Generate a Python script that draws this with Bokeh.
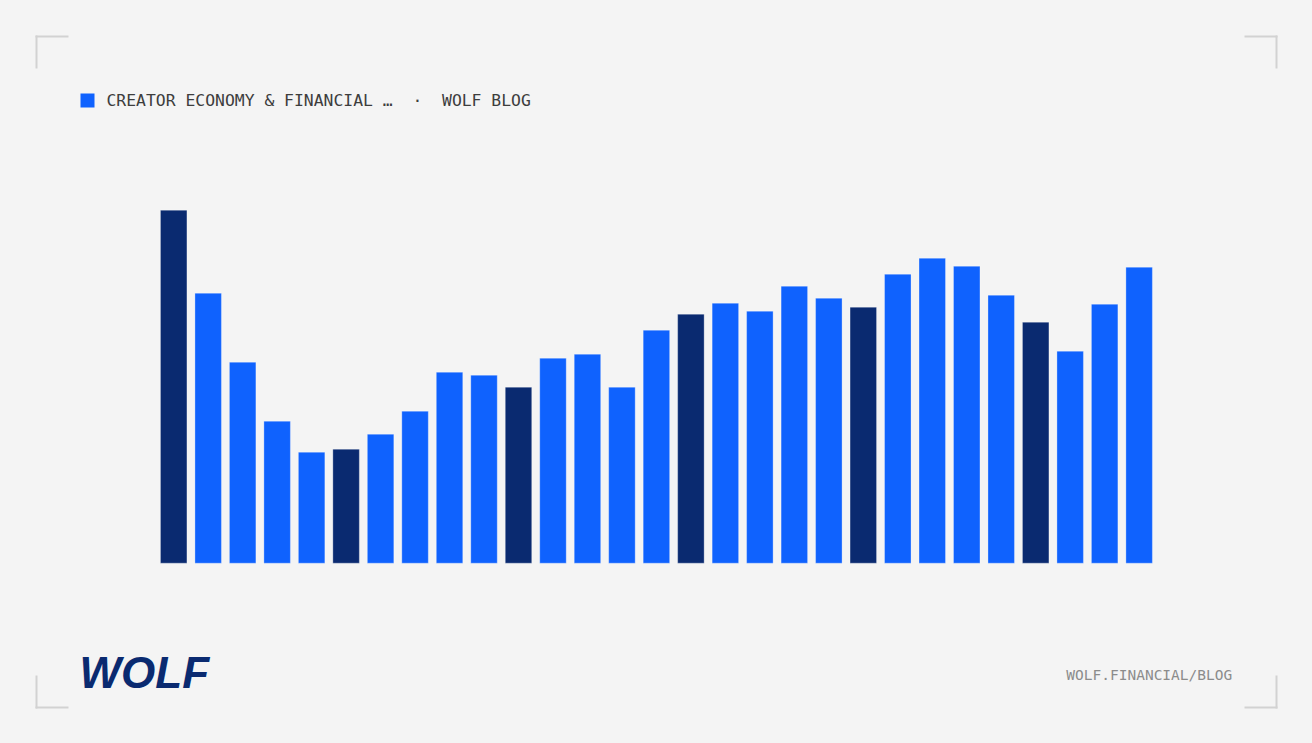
from bokeh.plotting import figure
from bokeh.models import Range1d, ColumnDataSource
from bokeh.core.properties import value
from bokeh.embed import file_html
from bokeh.resources import INLINE

# ---------------- data ----------------
periods = list(range(1, 30))
values = [353, 270, 201, 142, 111, 114, 129, 152, 191, 188,
          176, 205, 209, 176, 233, 249, 260, 252, 277, 265,
          256, 289, 305, 297, 268, 241, 212, 259, 296]
highlight = [True, False, False, False, False,
             True, False, False, False, False,
             True, False, False, False, False,
             True, False, False, False, False,
             True, False, False, False, False,
             True, False, False, False]
title_text = "CREATOR ECONOMY & FINANCIAL …\u00a0\u00a0·\u00a0\u00a0WOLF BLOG"
brand_text = "WOLF"
url_text = "WOLF.FINANCIAL/BLOG"

# ---------------- styling / layout ----------------
W, H = 1296, 727
BG = "#f4f4f4"
BLUE = "#0f62fe"
NAVY = "#0a2a70"
BRACKET = "#d2d2d2"

pitch = 34.48            # px per bar slot
first_center = 173.2     # px from left of canvas
baseline_from_bottom = H - 562.7

x0 = -first_center / pitch
p = figure(width=W, height=H, output_backend="svg", toolbar_location=None,
           x_range=Range1d(x0, x0 + W / pitch),
           y_range=Range1d(-baseline_from_bottom, H - baseline_from_bottom),
           x_axis_location=None, y_axis_location=None,
           background_fill_color=BG, border_fill_color=BG,
           min_border=0, min_border_left=0, min_border_right=0,
           min_border_top=0, min_border_bottom=0)
p.outline_line_color = None
p.grid.visible = False
p.extra_x_ranges = {"px": Range1d(0, W)}
p.extra_y_ranges = {"px": Range1d(H, 0)}

try:
    from bokeh.models import GlobalInlineStyleSheet
    p.stylesheets = [GlobalInlineStyleSheet(css="body{background:%s;}" % BG)]
except Exception:
    pass

# bars
src = ColumnDataSource(dict(
    x=[i for i in range(len(periods))],
    top=values,
    color=[NAVY if h else BLUE for h in highlight],
))
p.vbar(x="x", top="top", bottom=0, width=0.768, source=src,
       fill_color="color", line_color="white", line_alpha=0.3, line_width=1)

# corner brackets (pixel space)
L, T, R, B, arm, th = 35, 35, 1277, 708, 33, 2
lefts = [L, L, R - arm, R - th, L, L, R - arm, R - th]
rights = [L + arm, L + th, R, R, L + arm, L + th, R, R]
tops = [T, T, T, T, B - th, B - arm, B - th, B - arm]
bottoms = [T + th, T + arm, T + th, T + arm, B, B, B, B]
p.quad(left=lefts, right=rights, top=tops, bottom=bottoms,
       fill_color=BRACKET, line_color=None,
       x_range_name="px", y_range_name="px")

# header legend square + title
p.quad(left=[80], right=[94], top=[93], bottom=[107], fill_color=BLUE,
       line_color=None, x_range_name="px", y_range_name="px")
p.text(x=[106], y=[100.2], text=[title_text], text_font=value("DejaVu Sans Mono"),
       text_font_size="16.4px", text_color="#3d3d3d", text_baseline="alphabetic",
       text_align="left", x_range_name="px", y_range_name="px")

# footer
p.text(x=[79], y=[671.7], text=[brand_text], text_font=value("Liberation Sans"),
       text_font_style="bold italic", text_font_size="44px", text_color=NAVY,
       text_baseline="alphabetic", text_align="left",
       x_range_name="px", y_range_name="px")
p.text(x=[1231.7], y=[674.3], text=[url_text], text_font=value("DejaVu Sans Mono"),
       text_font_size="14.5px", text_color="#8c8c8c", text_baseline="alphabetic",
       text_align="right", x_range_name="px", y_range_name="px")

open("out.html", "w").write(file_html(p, INLINE))
